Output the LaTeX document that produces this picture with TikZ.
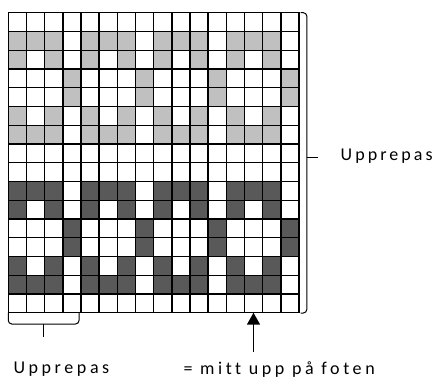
\documentclass[tikz,border=0pt]{standalone}
\usepackage{fontspec}
\setmainfont{Carlito}[LetterSpace=20,Ligatures={NoCommon}]
\newfontfamily\rightfont{Carlito}[LetterSpace=17,Ligatures={NoCommon}]
\usetikzlibrary{arrows.meta}
\definecolor{lg}{HTML}{C0C0C0}
\definecolor{dg}{HTML}{595959}
\tikzset{
  gridline/.style={line width=1.4pt, line cap=rect},
  brk/.style={line width=1pt, rounded corners=3.5pt},
  lbl/.style={font=\fontsize{18}{21}\selectfont, inner sep=0pt, anchor=base west},
  upar/.style={line width=1.5pt, -{Triangle[width=13pt,length=12pt]}}
}
\begin{document}
\begin{tikzpicture}[x=1pt,y=-1pt]
\useasboundingbox (0,0) rectangle (433,378);
\def\cw{18.17}\def\ch{18.75}
\def\gx{8.3}\def\gy{12.7}
% filled cells
\foreach \r/\offs/\c in {1/{0,1,2}/lg,2/{0,2}/lg,3/{3}/lg,4/{3}/lg,5/{0,2}/lg,6/{0,1,2}/lg,
                          9/{0,1,2}/dg,10/{0,2}/dg,11/{3}/dg,12/{3}/dg,13/{0,2}/dg,14/{0,1,2}/dg}{
  \foreach \o in \offs {
    \foreach \b in {0,...,3}{
      \fill[\c] ({\gx+(4*\b+\o)*\cw},{\gy+\r*\ch}) rectangle ++(\cw,\ch);
    }
  }
}
% grid lines
\foreach \i in {0,...,16}{
  \draw[gridline] ({\gx+\i*\cw},\gy) -- ({\gx+\i*\cw},{\gy+16*\ch});
  \draw[gridline] (\gx,{\gy+\i*\ch}) -- ({\gx+16*\cw},{\gy+\i*\ch});
}
% right bracket
\coordinate (rb1) at (300.5,12.7);
\coordinate (rb2) at (306.8,12.7);
\coordinate (rb3) at (306.8,313);
\coordinate (rb4) at (300.5,313);
\coordinate (rtick) at (306.8,157);
\coordinate (rtickend) at (318,157);
\draw[brk] (rb1) -- (rb2) -- (rb3) -- (rb4);
\draw[line width=1pt] (rtick) -- (rtickend);
% bottom brace
\coordinate (bb1) at (8.3,312.7);
\coordinate (bb2) at (8.3,324);
\coordinate (bb3) at (79,324);
\coordinate (bb4) at (79,313);
\coordinate (btick) at (43,324);
\coordinate (btickend) at (43,336.5);
\draw[brk] (bb1) -- (bb2) -- (bb3) -- (bb4);
\draw[line width=1pt] (btick) -- (btickend);
% arrow
\coordinate (astart) at (253.5,351.7);
\coordinate (aend) at (253.5,312.7);
\draw[upar] (astart) -- (aend);
% labels
\node[lbl] (rlabel) at (340.5,160.7) {\rightfont Upprepas};
\node[lbl] (blabel) at (13.3,373.3) {Upprepas};
\node[lbl] (mlabel) at (183.3,374.3) {= mitt upp på foten};
\end{tikzpicture}
\end{document}
